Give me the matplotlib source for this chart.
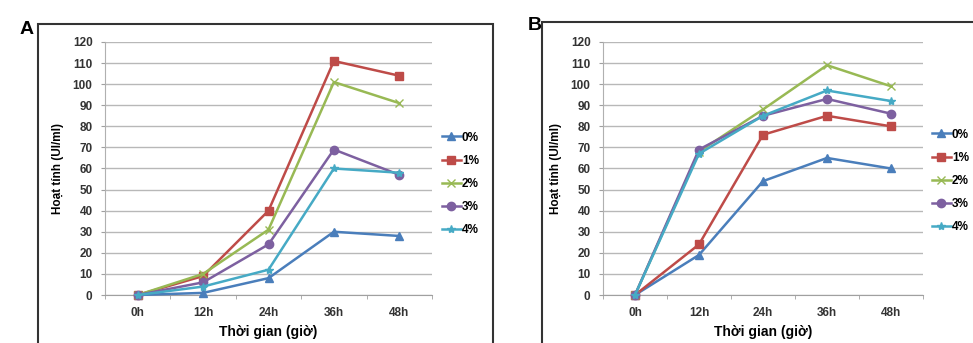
import matplotlib
matplotlib.use("Agg")
import matplotlib.pyplot as plt
from matplotlib.patches import Rectangle

plt.rcParams['font.family'] = ['Liberation Sans', 'DejaVu Sans']

times = ["0h", "12h", "24h", "36h", "48h"]
series_names = ["0%", "1%", "2%", "3%", "4%"]

# panel A values (UI/ml)
a_0 = [0, 1, 8, 30, 28]
a_1 = [0, 9, 40, 111, 104]
a_2 = [0, 10, 31, 101, 91]
a_3 = [0, 6, 24, 69, 57]
a_4 = [0, 4, 12, 60, 58]

# panel B values (UI/ml)
b_0 = [0, 19, 54, 65, 60]
b_1 = [0, 24, 76, 85, 80]
b_2 = [0, 68, 88, 109, 99]
b_3 = [0, 69, 85, 93, 86]
b_4 = [0, 67, 85, 97, 92]

colors = ["#4A7EBB", "#BE4B48", "#98B954", "#7D60A0", "#46AAC5"]
markers = ["^", "s", "x", "o", "*"]


def draw_panel(fig, rect, data, legend_pos):
    ax = fig.add_axes(rect)
    x = range(len(times))
    for vals, name, c, m in zip(data, series_names, colors, markers):
        ax.plot(x, vals, color=c, marker=m, markersize=6, linewidth=1.8,
                label=name, clip_on=False, zorder=3)
    ax.set_xlim(-0.5, len(times) - 0.5)
    ax.set_ylim(0, 120)
    ax.set_yticks(range(0, 121, 10))
    ax.set_xticks(list(x))
    ax.set_xticklabels(times)
    ax.set_xticks([i - 0.5 for i in range(len(times) + 1)], minor=True)
    ax.tick_params(axis='x', which='major', length=0, pad=9)
    ax.tick_params(axis='x', which='minor', length=3, color='#a0a0a0')
    ax.tick_params(axis='y', length=3, color='#a0a0a0', pad=6)
    for lab in ax.get_xticklabels() + ax.get_yticklabels():
        lab.set_fontsize(8.5)
        lab.set_fontweight('bold')
        lab.set_color('#333333')
    ax.grid(axis='y', color='#b8b8b8', linewidth=1)
    ax.set_axisbelow(True)
    for s in ['top', 'right']:
        ax.spines[s].set_visible(False)
    ax.spines['left'].set_color('#b0b0b0')
    ax.spines['bottom'].set_color('#a0a0a0')
    ax.set_xlabel("Thời gian (giờ)", fontsize=10, fontweight='bold', labelpad=4)
    ax.set_ylabel("Hoạt tính (UI/ml)", fontsize=8.5, fontweight='bold', labelpad=6)
    ax.legend(loc='center left', bbox_to_anchor=legend_pos,
              bbox_transform=fig.transFigure, frameon=False,
              handlelength=1.6, handletextpad=0.1, labelspacing=0.95,
              borderaxespad=0, prop={'weight': 'bold', 'size': 8.5})
    return ax


fig = plt.figure(figsize=(9.73, 3.43), dpi=100)

fig.patches.append(Rectangle((38 / 973, -0.1), (493 - 38) / 973, 1.1 - 24 / 343,
                             transform=fig.transFigure, fill=False,
                             edgecolor='#333333', linewidth=1.5))
fig.patches.append(Rectangle((542 / 973, -0.1), 0.5, 1.1 - 22 / 343,
                             transform=fig.transFigure, fill=False,
                             edgecolor='#333333', linewidth=1.5))

draw_panel(fig, [105 / 973, 48 / 343, 327 / 973, 253 / 343],
           [a_0, a_1, a_2, a_3, a_4], (437 / 973, 1 - 184 / 343))
draw_panel(fig, [603 / 973, 48 / 343, 320 / 973, 253 / 343],
           [b_0, b_1, b_2, b_3, b_4], (927 / 973, 1 - 181 / 343))

fig.text(20 / 973, 1 - 29 / 343, "A", fontsize=14, fontweight='bold', va='center')
fig.text(528 / 973, 1 - 26 / 343, "B", fontsize=14, fontweight='bold', va='center')

fig.savefig("out.png", dpi=100)
